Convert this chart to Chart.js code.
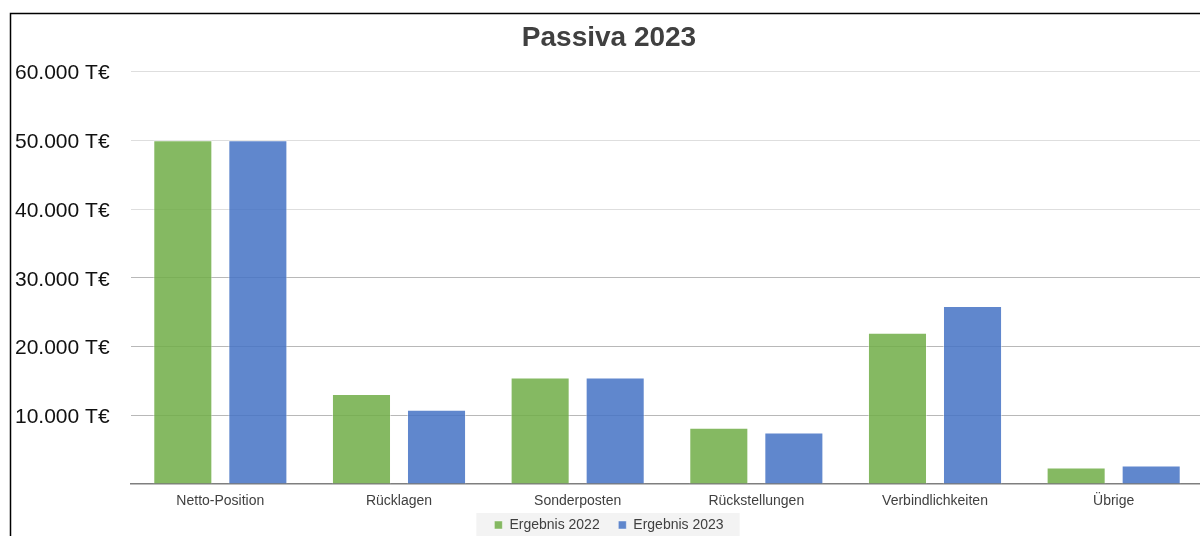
<!DOCTYPE html>
<html>
<head>
<meta charset="utf-8">
<script src="https://cdn.jsdelivr.net/npm/chart.js@4/dist/chart.umd.min.js"></script>
<style>
  html, body { margin: 0; padding: 0; background: #fff; overflow: hidden; }
  #wrap { position: relative; width: 1203px; height: 536px; }
</style>
</head>
<body>
<div id="wrap"><canvas id="chart"></canvas></div>
<script>
// Passiva 2023 - values in T€
const categories = ['Netto-Position', 'Rücklagen', 'Sonderposten', 'Rückstellungen', 'Verbindlichkeiten', 'Übrige'];
const ergebnis2022 = [50000, 13100, 15500, 8200, 22000, 2400];
const ergebnis2023 = [50000, 10800, 15500, 7500, 25900, 2700];
const seriesLabels = ['Ergebnis 2022', 'Ergebnis 2023'];

const fmt = v => v.toLocaleString('de-DE') + ' T€';

// frame lines + grey legend backdrop
const framePlugin = {
  id: 'frame',
  beforeDraw(chart) {
    const ctx = chart.ctx;
    ctx.save();
    ctx.fillStyle = '#fff';
    ctx.fillRect(0, 0, chart.width, chart.height);
    ctx.strokeStyle = '#000';
    ctx.lineWidth = 1.5;
    ctx.beginPath();
    ctx.moveTo(10.5, chart.height);
    ctx.lineTo(10.5, 13.5);
    ctx.lineTo(chart.width, 13.5);
    ctx.stroke();
    const boxes = chart.legend && chart.legend.legendHitBoxes;
    if (boxes && boxes.length) {
      const l = Math.min(...boxes.map(b => b.left)) - 18;
      const r = Math.max(...boxes.map(b => b.left + b.width)) + 16;
      const t = boxes[0].top - 5;
      ctx.fillStyle = '#f3f3f3';
      ctx.fillRect(l, t, r - l, chart.height - t);
    }
    ctx.restore();
  }
};

new Chart(document.getElementById('chart'), {
  type: 'bar',
  data: {
    labels: categories,
    datasets: [{
      label: seriesLabels[0],
      data: ergebnis2022,
      backgroundColor: 'rgba(112, 173, 71, 0.85)',
      borderColor: 'rgba(255, 255, 255, 0.45)',
      borderWidth: 1
    }, {
      label: seriesLabels[1],
      data: ergebnis2023,
      backgroundColor: 'rgba(68, 114, 196, 0.85)',
      borderColor: 'rgba(255, 255, 255, 0.45)',
      borderWidth: 1
    }]
  },
  options: {
    responsive: true,
    maintainAspectRatio: false,
    animation: false,
    categoryPercentage: 0.84,
    barPercentage: 0.787,
    layout: { padding: { left: 15, right: 0, top: 13, bottom: -6 } },
    plugins: {
      title: {
        display: true,
        text: 'Passiva 2023',
        color: '#404040',
        font: { family: 'Liberation Sans, Arial', size: 28, weight: 'bold' },
        padding: { top: 8, bottom: 17 }
      },
      legend: {
        position: 'bottom',
        labels: {
          color: '#404040',
          font: { family: 'Liberation Sans, Arial', size: 14 },
          boxWidth: 8,
          boxHeight: 8,
          padding: 7,
          generateLabels(chart) {
            const items = Chart.defaults.plugins.legend.labels.generateLabels(chart);
            items.forEach((it, i) => { if (i < items.length - 1) it.text += '   '; });
            return items;
          }
        }
      },
      tooltip: { enabled: false }
    },
    scales: {
      x: {
        afterFit(scale) { scale.height = 27; },
        grid: { display: false, drawTicks: false },
        border: { color: '#7f7f7f', width: 1.5 },
        ticks: {
          color: '#404040',
          padding: 9,
          font: { family: 'Liberation Sans, Arial', size: 14 }
        }
      },
      y: {
        min: 0,
        max: 60000,
        afterFit(scale) { scale.width = 116; },
        border: { display: false },
        grid: {
          drawTicks: false,
          color: ctx => ctx.tick.value === 0 ? 'rgba(0,0,0,0)' : (ctx.tick.value <= 30000 ? '#b8b8b8' : '#dedede')
        },
        ticks: {
          stepSize: 10000,
          crossAlign: 'far',
          labelOffset: 2,
          color: '#111',
          font: { family: 'Liberation Sans, Arial', size: 21 },
          callback: v => v === 0 ? '' : fmt(v)
        }
      }
    }
  },
  plugins: [framePlugin]
});
</script>
</body>
</html>
